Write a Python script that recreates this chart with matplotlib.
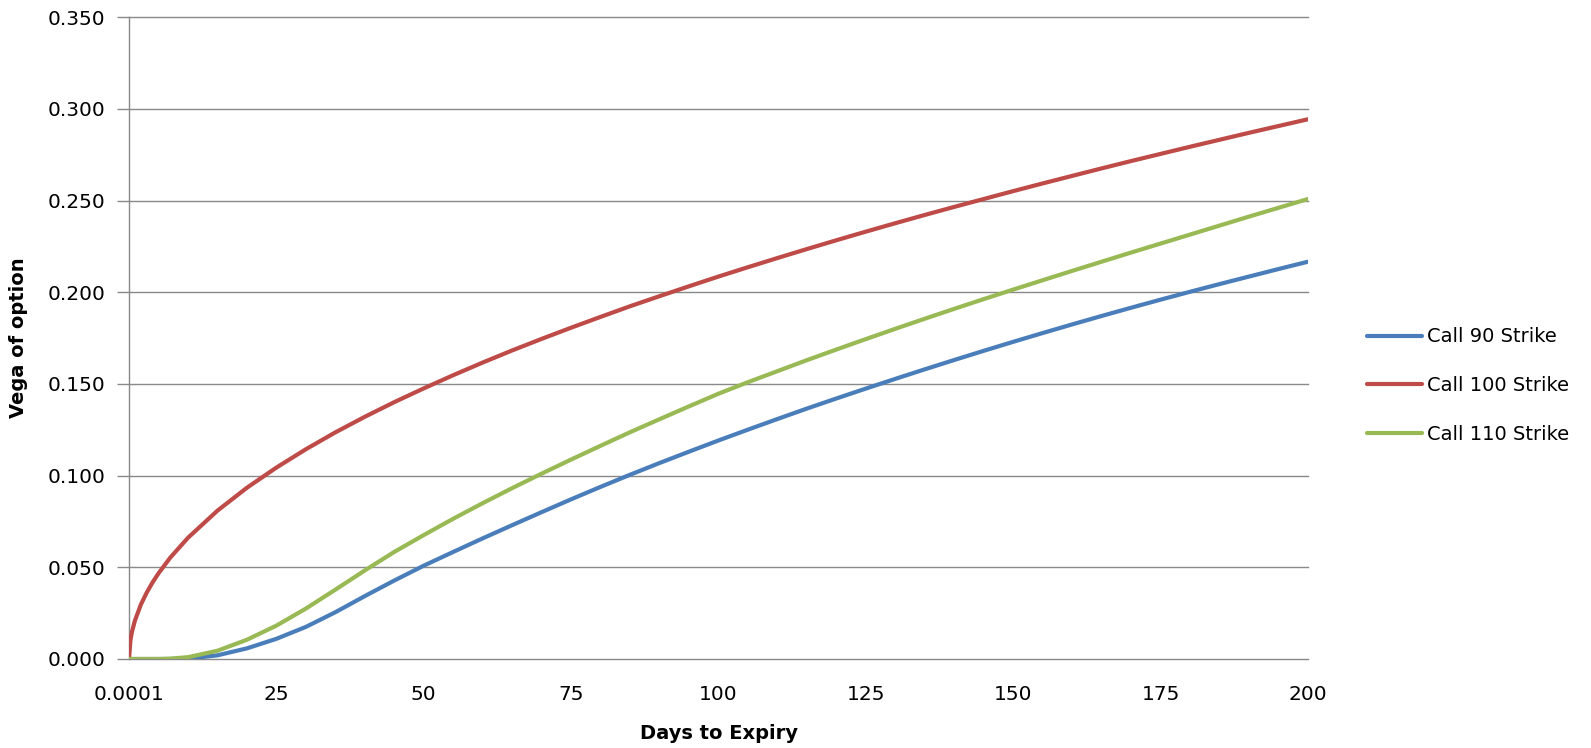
import matplotlib
matplotlib.use("Agg")
import matplotlib.pyplot as plt

# Vega of call options versus days remaining to expiry
days = [0.0001, 0.25, 0.5, 1, 2, 3, 4,
        5, 7, 10, 15, 20, 25, 30, 35, 40, 45, 50, 55, 60, 65, 70, 75, 80, 85,
        90, 95, 100, 105, 110, 115, 120, 125, 130, 135, 140, 145, 150, 155,
        160, 165, 170, 175, 180, 185, 190, 195, 200]

call_90 = [0, 0, 0, 0, 0, 0, 0,
           0, 0, 0.0002, 0.0020, 0.0058, 0.0110, 0.0175, 0.0255, 0.0343,
           0.0428, 0.0509, 0.0584, 0.0658, 0.0730, 0.0801, 0.0871, 0.0939,
           0.1005, 0.1069, 0.1131, 0.1192, 0.1251, 0.1309, 0.1366, 0.1421,
           0.1475, 0.1528, 0.1580, 0.1631, 0.1681, 0.1730, 0.1778, 0.1825,
           0.1871, 0.1916, 0.1960, 0.2003, 0.2045, 0.2086, 0.2127, 0.2167]

call_100 = [0, 0.0104, 0.0148, 0.0209, 0.0296, 0.0362, 0.0418,
            0.0467, 0.0553, 0.0661, 0.0809, 0.0934, 0.1044, 0.1144, 0.1236,
            0.1321, 0.1401, 0.1476, 0.1548, 0.1617, 0.1683, 0.1746, 0.1807,
            0.1866, 0.1924, 0.1979, 0.2033, 0.2086, 0.2137, 0.2187, 0.2236,
            0.2284, 0.2331, 0.2377, 0.2422, 0.2466, 0.2509, 0.2552, 0.2594,
            0.2635, 0.2676, 0.2716, 0.2755, 0.2794, 0.2832, 0.2870, 0.2907,
            0.2944]

call_110 = [0, 0, 0, 0, 0, 0, 0,
            0, 0.0002, 0.0010, 0.0045, 0.0105, 0.0182, 0.0275, 0.0378, 0.0483,
            0.0584, 0.0676, 0.0765, 0.0850, 0.0932, 0.1011, 0.1088, 0.1163,
            0.1237, 0.1308, 0.1378, 0.1447, 0.1510, 0.1570, 0.1630, 0.1688,
            0.1745, 0.1801, 0.1856, 0.1910, 0.1963, 0.2015, 0.2066, 0.2117,
            0.2167, 0.2217, 0.2266, 0.2315, 0.2364, 0.2413, 0.2461, 0.2509]

series_labels = ["Call 90 Strike", "Call 100 Strike", "Call 110 Strike"]
series_colors = ["#4A7EBB", "#BE4B48", "#98B954"]

x_ticks = [0.0001, 25, 50, 75, 100, 125, 150, 175, 200]
x_tick_labels = ["0.0001", "25", "50", "75", "100", "125", "150", "175", "200"]
y_ticks = [0.0, 0.05, 0.10, 0.15, 0.20, 0.25, 0.30, 0.35]

FONT = ["DejaVu Sans"]
GRID = "#898989"

fig = plt.figure(figsize=(15.91, 7.48), dpi=100)
ax = fig.add_axes([129 / 1591, 1 - 659 / 748, (1308 - 129) / 1591, (659 - 17.3) / 748])

for vals, lab, col in zip([call_90, call_100, call_110], series_labels, series_colors):
    ax.plot(days, vals, color=col, lw=3.0, label=lab,
            solid_capstyle="round", solid_joinstyle="round", zorder=3)

ax.set_xlim(0, 200)
ax.set_ylim(0, 0.35)

ax.set_yticks(y_ticks)
ax.set_yticklabels([f"{v:.3f}" for v in y_ticks], fontsize=14.5, family=FONT)
ax.set_xticks(x_ticks)
ax.set_xticklabels(x_tick_labels, fontsize=14.5, family=FONT)
ax.set_xticks([0], minor=True)

ax.yaxis.grid(True, color=GRID, lw=1.0)
ax.set_axisbelow(True)
# keep the gridlines on the top and bottom limits at full width
for gl in ax.get_ygridlines():
    gl.set_clip_on(False)
for side in ["top", "right", "bottom"]:
    ax.spines[side].set_visible(False)
ax.spines["left"].set_color(GRID)
ax.spines["left"].set_linewidth(1.0)

ax.tick_params(axis="y", which="major", direction="out", length=9, width=1.0,
               color=GRID, pad=8, labelcolor="black")
ax.tick_params(axis="x", which="major", length=0, pad=19, labelcolor="black")
ax.tick_params(axis="x", which="minor", direction="out", length=8, width=1.0,
               color=GRID)

ax.set_ylabel("Vega of option", fontsize=14, fontweight="bold", family=FONT,
              labelpad=14)
ax.set_xlabel("Days to Expiry", fontsize=14, fontweight="bold", family=FONT,
              labelpad=14)

leg = ax.legend(loc="center left", bbox_to_anchor=(1367 / 1591, 1 - 385.7 / 748),
                bbox_transform=fig.transFigure, frameon=False,
                prop={"family": FONT, "size": 14}, handlelength=2.85,
                handletextpad=0.25, labelspacing=1.53, borderpad=0,
                borderaxespad=0)

fig.savefig("out.png", dpi=100)
